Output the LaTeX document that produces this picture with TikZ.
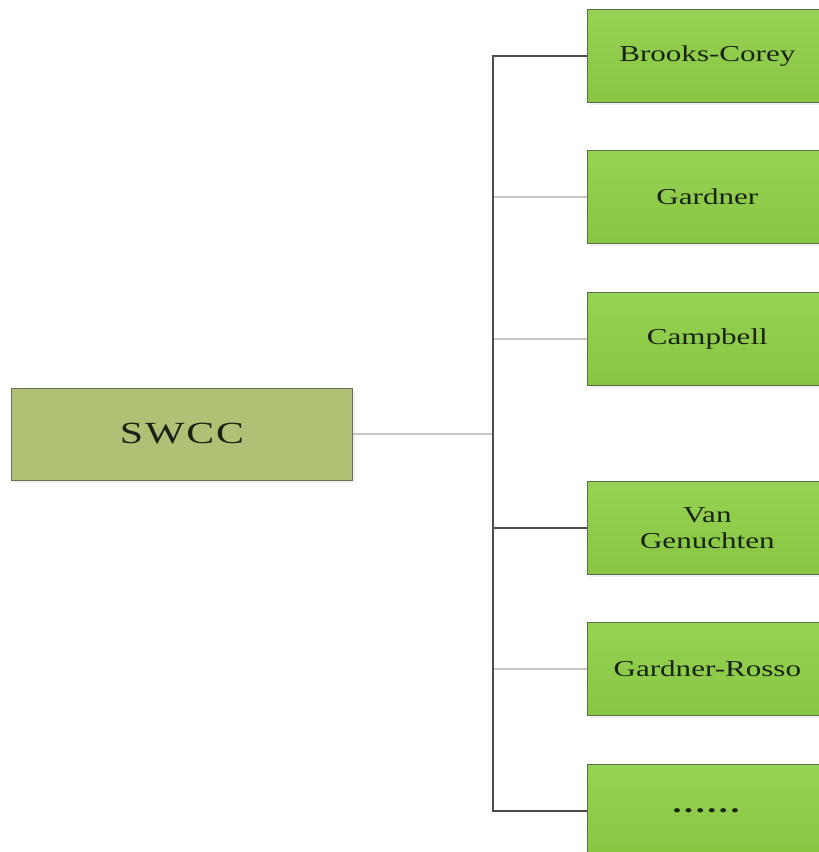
\documentclass[tikz,border=0pt]{standalone}
\usepackage{fontspec}
\setmainfont{Liberation Serif}[FakeStretch=1.36]
\usepackage{tikz}
\usetikzlibrary{shapes,positioning,shadows}
\definecolor{olivebox}{RGB}{174,193,116}
\definecolor{oliveedge}{RGB}{105,112,84}
\definecolor{greentop}{RGB}{150,210,84}
\definecolor{greenbot}{RGB}{136,198,66}
\definecolor{greenedge}{RGB}{92,108,70}
\definecolor{textdark}{RGB}{25,35,20}
\tikzset{root/.style={rectangle, draw=oliveedge, fill=olivebox, text=textdark, minimum width=6.82cm, minimum height=1.84cm,
 font=\fontsize{17.5}{20}\selectfont\addfontfeatures{LetterSpace=6}, drop shadow={opacity=0.12, shadow xshift=1.5pt, shadow yshift=-1.5pt}}}
\tikzset{model/.style={rectangle, draw=greenedge, top color=greentop, bottom color=greenbot, text=textdark, text width=4.4cm,
 align=center, minimum width=4.8cm, minimum height=1.86cm, anchor=west, font=\fontsize{13}{14.5}\selectfont,
 drop shadow={opacity=0.12, shadow xshift=1.5pt, shadow yshift=-1.5pt}}}
\tikzset{trunkline/.style={draw=black!70, line width=0.6pt}}
\tikzset{faintline/.style={draw=black!22, line width=0.6pt}}

\begin{document}
\begin{tikzpicture}[x=0.2mm, y=-0.2mm]
        \useasboundingbox (0,0) rectangle (819,852);
        \node[root]   (swcc) at (182,434) {SWCC};
        \node[model]  (brooks) at (587,56)  {Brooks-Corey};
        \node[model]  (gardner) at (587,197) {Gardner};
        \node[model]  (campbell) at (587,339) {Campbell};
        \node[model]  (vang) at (587,528) {Van\\Genuchten};
        \node[model]  (rosso) at (587,669) {Gardner-Rosso};
        \node[model]  (more) at (587,811) {{\fontsize{15}{16}\selectfont\addfontfeatures{LetterSpace=10}\textbf{......}}};
        \coordinate (trunk) at (493,434);

        % faint branches
        \path[faintline] (swcc) -- (trunk);
        \path[faintline] (gardner.west) -- (gardner.west -| trunk);
        \path[faintline] (campbell.west) -- (campbell.west -| trunk);
        \path[faintline] (rosso.west) -- (rosso.west -| trunk);
        % dark branches
        \path[trunkline] (brooks.west) -| (trunk);
        \path[trunkline] (more.west) -| (trunk);
        \path[trunkline] (vang.west) -- (vang.west -| trunk);
     \end{tikzpicture}
\end{document}
